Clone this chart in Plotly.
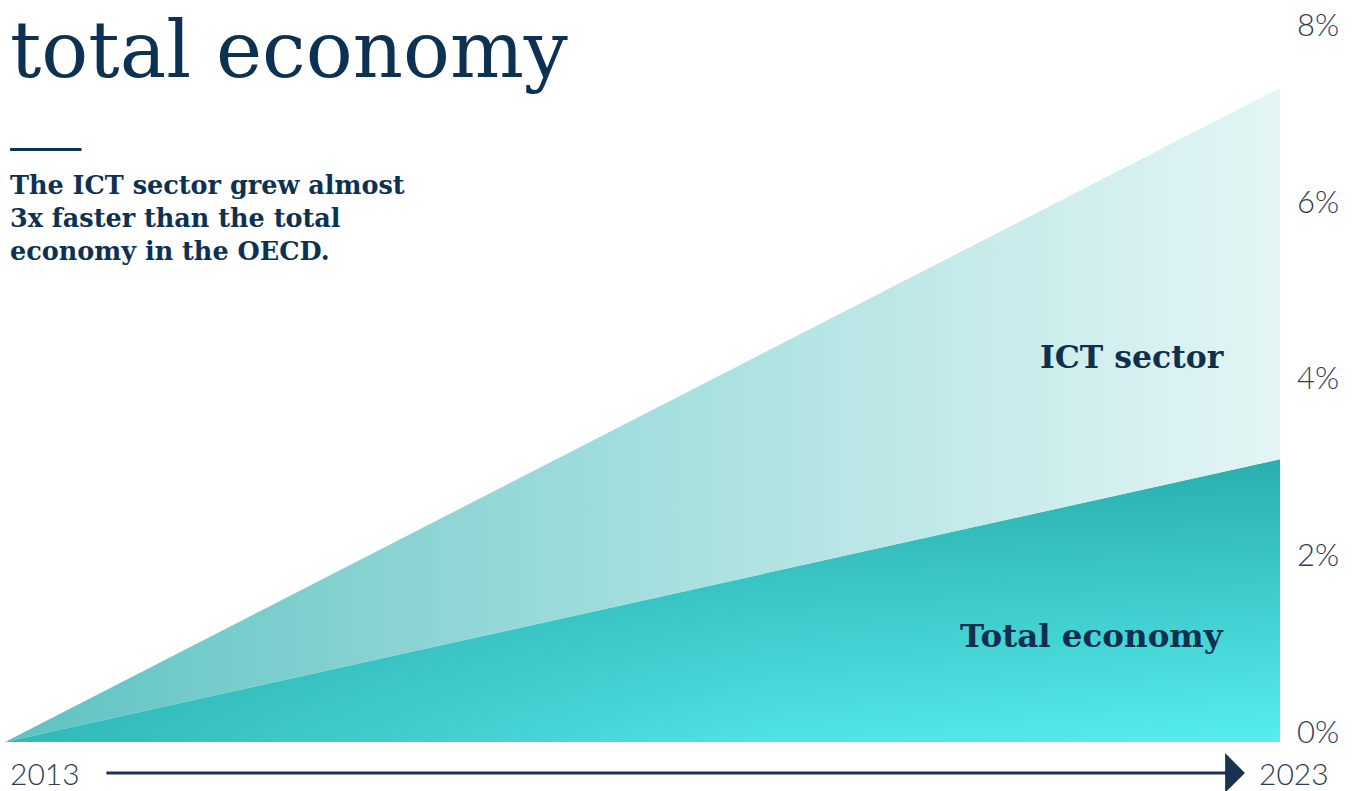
import plotly.graph_objects as go

# ---- data ----
years = [2013, 2023]
total_economy = [0.0, 3.2]   # cumulative growth, %
ict_sector = [0.0, 7.4]      # cumulative growth, %
y_ticks = [0, 2, 4, 6, 8]
y_tick_labels = ["0%", "2%", "4%", "6%", "8%"]
x_ticks = [2013, 2023]
x_tick_labels = ["2013", "2023"]

NAVY = "#0f2f4f"
TICK = "#2f3d57"

fig = go.Figure()

# Total economy area (vertical gradient)
fig.add_trace(go.Scatter(
    x=years, y=total_economy, mode="lines", line=dict(width=0),
    fill="tozeroy",
    fillgradient=dict(type="vertical",
                      colorscale=[[0, "#56eef0"], [1, "#2aaeae"]]),
    hoverinfo="skip", showlegend=False,
))
# darker shading towards the left of total economy area
fig.add_trace(go.Scatter(
    x=years, y=total_economy, mode="lines", line=dict(width=0),
    fill="tozeroy",
    fillgradient=dict(type="horizontal",
                      colorscale=[[0, "rgba(38,165,165,0.75)"], [0.6, "rgba(38,165,165,0.15)"], [1, "rgba(38,165,165,0)"]]),
    hoverinfo="skip", showlegend=False,
))
# ICT sector area, stacked between total economy and ICT line
fig.add_trace(go.Scatter(
    x=years, y=total_economy, mode="lines", line=dict(width=0),
    hoverinfo="skip", showlegend=False,
))
fig.add_trace(go.Scatter(
    x=years, y=ict_sector, mode="lines", line=dict(width=0),
    fill="tonexty",
    fillgradient=dict(type="horizontal",
                      colorscale=[[0, "#5ec2c2"], [0.5, "#a4dede"], [1, "#e4f5f5"]]),
    hoverinfo="skip", showlegend=False,
))

fig.update_layout(
    width=1355, height=791,
    margin=dict(l=5, r=75, t=32, b=49),
    paper_bgcolor="white", plot_bgcolor="white",
    xaxis=dict(range=[2013, 2023], showgrid=False, zeroline=False,
               showticklabels=False, fixedrange=True),
    yaxis=dict(range=[0, 8], side="right", tickvals=y_ticks, ticktext=y_tick_labels,
               showgrid=False, zeroline=False, ticks="", ticklabelshift=-10,
               ticklabelstandoff=16,
               tickfont=dict(family="Lato", size=31, color=TICK, weight=300)),
    showlegend=False,
)

# x labels at ends of the timeline
fig.add_annotation(x=0, y=-0.044, xref="paper", yref="paper", text=x_tick_labels[0],
                   showarrow=False, xanchor="left", yanchor="middle", xshift=3,
                   font=dict(family="Lato", size=30, color=TICK, weight=300))
fig.add_annotation(x=1, y=-0.044, xref="paper", yref="paper", text=x_tick_labels[1],
                   showarrow=False, xanchor="left", yanchor="middle", xshift=-23,
                   font=dict(family="Lato", size=30, color=TICK, weight=300))
# timeline arrow
fig.add_annotation(x=0.9725, y=-0.0437, xref="paper", yref="paper", text="",
                   showarrow=True, ax=-1140, ay=0, arrowhead=1, arrowsize=2.2,
                   arrowwidth=3, arrowcolor="#1a3352", standoff=0)

# title & subtitle
fig.add_annotation(x=0, y=1 - (47 - 32) / 710, xref="paper", yref="paper", xshift=3,
                   text="total economy", showarrow=False, xanchor="left", yanchor="middle",
                   font=dict(family="DejaVu Serif", size=78, color="#0d3152"))
fig.add_shape(type="line", xref="paper", yref="paper", x0=0.004, x1=0.06,
              y0=1 - (147 - 32) / 710, y1=1 - (147 - 32) / 710,
              line=dict(color="#0d3152", width=3))
fig.add_annotation(x=0, y=1 - (166 - 32) / 710, xref="paper", yref="paper", xshift=3,
                   text="<b>The ICT sector grew almost<br>3x faster than the total<br>economy in the OECD.</b>",
                   showarrow=False, xanchor="left", yanchor="top", align="left",
                   font=dict(family="DejaVu Serif", size=25.5, color="#0d3152"))

# series labels
fig.add_annotation(x=0.958, y=1 - (355 - 32) / 710, xref="paper", yref="paper",
                   text="<b>ICT sector</b>", showarrow=False, xanchor="right", yanchor="middle",
                   font=dict(family="DejaVu Serif", size=31.5, color=NAVY))
fig.add_annotation(x=0.958, y=1 - (635 - 32) / 710, xref="paper", yref="paper",
                   text="<b>Total economy</b>", showarrow=False, xanchor="right", yanchor="middle",
                   font=dict(family="DejaVu Serif", size=32.5, color=NAVY))

fig.write_html("out.html", config={"displayModeBar": False},
               post_script="document.body.style.margin='0px';")
